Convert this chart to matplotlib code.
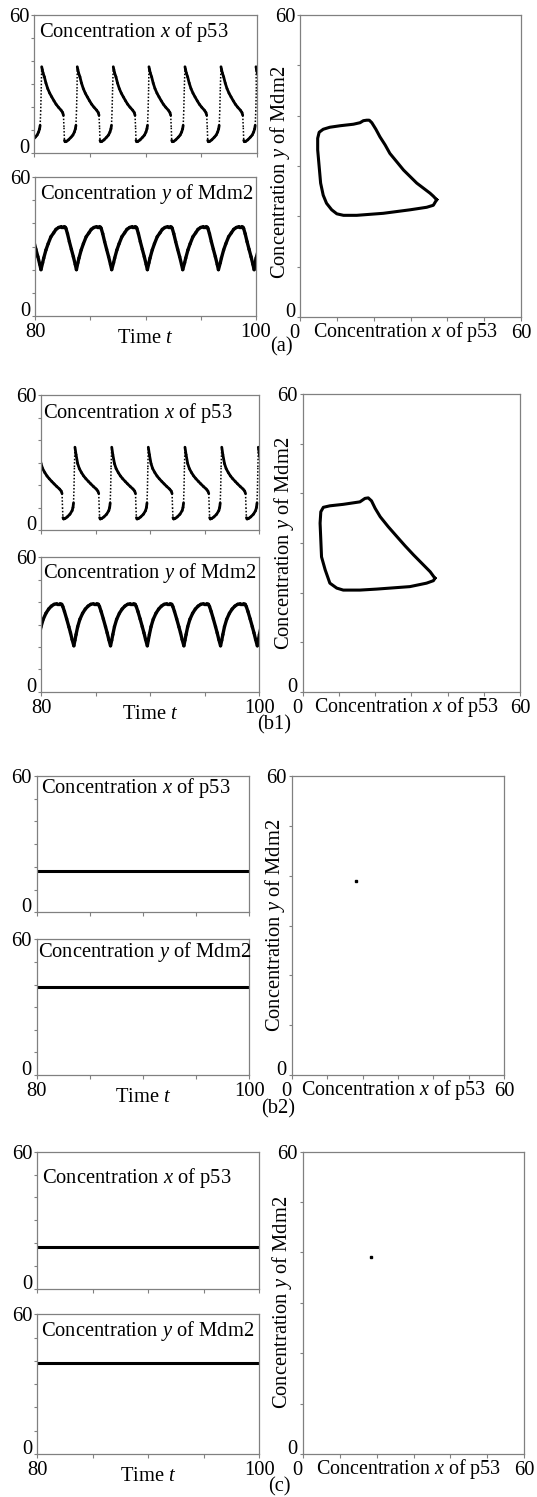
import numpy as np
import matplotlib
matplotlib.use('Agg')
import matplotlib.pyplot as plt
from matplotlib.collections import LineCollection

plt.rcParams['font.family'] = ['Liberation Serif', 'DejaVu Serif']
plt.rcParams['mathtext.fontset'] = 'custom'
plt.rcParams['mathtext.rm'] = 'Liberation Serif'
plt.rcParams['mathtext.it'] = 'Liberation Serif:italic'

W, H = 537, 1497
FS = 14.8
GRAY = '#808080'

# ---------------- data ----------------
time_ticks = [80, 85, 90, 95, 100]
time_ticklabels = ['80', '', '', '', '100']
conc_ticks = [0, 10, 20, 30, 40, 50, 60]
conc_ticklabels = ['0', '', '', '', '', '', '60']
panel_labels = ['(a)', '(b1)', '(b2)', '(c)']

# (a) oscillation: p53 peak times and one-cycle profiles (time after a p53 peak)
a_peak_t = [77.48, 80.69, 83.88, 87.11, 90.31, 93.54, 96.77, 99.91]
a_x_tau = [0.00, 0.05, 0.12, 0.24, 0.38, 0.54, 0.72, 0.90, 1.10, 1.29, 1.50, 1.74, 1.88, 1.95,
           2.00, 2.04, 2.10, 2.20, 2.40, 2.64, 2.80, 2.93, 3.02, 3.07, 3.12, 3.17]
a_x_val = [37.5, 36.3, 34.8, 33.1, 30.4, 28.0, 26.0, 24.4, 22.7, 21.2, 19.9, 18.6, 17.6, 16.4,
           11.0, 5.5, 4.9, 5.0, 5.7, 6.9, 7.8, 9.1, 10.5, 12.0, 18.0, 28.0]
a_y_tau = [0.00, 0.10, 0.30, 0.50, 0.75, 1.00, 1.21, 1.45, 1.70, 1.95, 2.05, 2.11, 2.25, 2.42,
           2.60, 2.78, 2.95, 3.06]
a_y_val = [23.0, 25.0, 28.5, 31.2, 34.2, 35.9, 37.4, 38.2, 38.6, 38.6, 38.3, 37.8, 35.5, 32.1,
           28.8, 25.6, 22.3, 20.0]
a_loop_x = [37.1, 36.2, 35.3, 33.5, 31.7, 29.9, 28.1, 26.2, 24.4, 23.1, 21.7, 20.6, 19.5, 18.8,
            18.1, 17.2, 16.3, 14.5, 10.9, 8.1, 6.3, 5.2, 4.8, 4.8, 5.2, 5.6, 6.3, 7.2, 8.6,
            10.0, 11.8, 15.4, 22.6, 29.9, 34.4, 36.2, 37.1]
a_loop_y = [23.3, 24.0, 24.6, 25.6, 26.6, 27.9, 29.2, 30.9, 32.5, 34.2, 35.8, 37.3, 38.6, 39.1,
            39.1, 39.0, 38.6, 38.3, 38.0, 37.7, 37.3, 36.7, 35.5, 33.2, 29.9, 26.6, 24.2, 22.6,
            21.3, 20.5, 20.2, 20.2, 20.6, 21.3, 21.8, 22.2, 23.3]

# (b1) oscillation
b1_peak_t = [79.75, 83.11, 86.48, 89.83, 93.19, 96.56, 99.91]
b1_x_tau = [0.00, 0.10, 0.25, 0.40, 0.60, 0.80, 1.00, 1.25, 1.45, 1.70, 1.95, 2.10, 2.18,
            2.22, 2.26, 2.32, 2.45, 2.65, 2.90, 3.10, 3.18, 3.23, 3.27, 3.31]
b1_x_val = [36.8, 33.5, 29.5, 27.3, 25.5, 24.0, 22.8, 21.5, 20.5, 19.3, 18.2, 17.3, 16.2,
            10.0, 5.5, 4.9, 5.1, 5.8, 7.0, 8.6, 10.0, 12.0, 18.0, 28.0]
b1_y_tau = [0.00, 0.10, 0.25, 0.45, 0.70, 0.95, 1.20, 1.45, 1.70, 2.00, 2.15, 2.25, 2.40,
            2.60, 2.80, 2.95, 3.10, 3.26]
b1_y_val = [23.0, 25.5, 29.0, 32.3, 35.0, 36.9, 38.2, 39.0, 39.3, 39.3, 39.0, 38.0, 35.8,
            32.5, 29.0, 26.3, 23.3, 20.5]
b1_loop_x = [36.5, 35.2, 32.9, 30.6, 28.3, 26.0, 23.6, 21.4, 20.0, 19.0, 18.1, 17.2, 15.8,
             11.2, 7.5, 5.7, 5.0, 4.8, 5.0, 5.2, 6.2, 7.5, 9.4, 11.2, 15.8, 20.4, 29.6, 34.2,
             36.1, 36.5]
b1_loop_y = [22.9, 24.2, 25.9, 27.6, 29.4, 31.3, 33.3, 35.3, 37.0, 38.5, 39.1, 39.0, 38.3,
             37.8, 37.5, 37.2, 36.3, 34.0, 30.6, 27.2, 24.6, 21.9, 20.9, 20.5, 20.5, 20.7, 21.2,
             21.9, 22.4, 22.9]

# (b2) and (c): steady state
b2_t = [80, 100]
b2_x = [18.2, 18.2]
b2_y = [39.0, 39.0]
c_t = [80, 100]
c_x = [18.4, 18.4]
c_y = [39.1, 39.1]

# ---------------- helpers ----------------
fig = plt.figure(figsize=(W / 100, H / 100), dpi=100)


def add_ax(l, t, r, b):
    return fig.add_axes([l / W, 1 - b / H, (r - l) / W, (b - t) / H])


def style(ax):
    for s in ax.spines.values():
        s.set_color(GRAY)
        s.set_linewidth(0.9)
    ax.tick_params(direction='out', color=GRAY, width=0.8, labelsize=FS)
    ax.tick_params(axis='y', length=2.5, pad=1)
    ax.tick_params(axis='x', length=3, pad=2)
    ylabs = ax.get_yticklabels()
    ylabs[0].set_va('baseline')


def tile(peaks, tau, val):
    ts, vs = [], []
    for p in peaks:
        for tt, vv in zip(tau, val):
            ts.append(p + tt)
            vs.append(vv)
    return np.array(ts), np.array(vs)


def draw_series(ax, t, v, lw):
    pts = np.column_stack([t, v])
    segs = np.stack([pts[:-1], pts[1:]], axis=1)
    slope = np.abs(np.diff(v) / np.maximum(np.diff(t), 1e-6))
    steep = slope > 45
    lc1 = LineCollection(segs[~steep], colors='black', linewidths=lw, capstyle='round')
    lc2 = LineCollection(segs[steep], colors='black', linewidths=1.1, linestyles=(0, (1, 1.2)))
    ax.add_collection(lc1)
    ax.add_collection(lc2)


def ts_axes(box, title, pad_px, base_px, bottom):
    l, t, r, b = box
    ax = add_ax(l, t, r, b)
    ax.set_xlim(80, 100)
    ax.set_ylim(0, 60)
    ax.set_xticks(time_ticks)
    ax.set_xticklabels(time_ticklabels if bottom else [''] * 5)
    ax.set_yticks(conc_ticks)
    ax.set_yticklabels(conc_ticklabels)
    style(ax)
    ax.text(pad_px / (r - l), 1 - base_px / (b - t), title, transform=ax.transAxes,
            ha='left', va='baseline', fontsize=FS)
    if bottom:
        ax.text(0.5, -27 / (b - t), 'Time $t$', transform=ax.transAxes,
                ha='center', va='baseline', fontsize=FS)
    return ax


def phase_axes(box, ylab_dx, ylab_dy):
    l, t, r, b = box
    ax = add_ax(l, t, r, b)
    ax.set_xlim(0, 60)
    ax.set_ylim(0, 60)
    ax.set_xticks(conc_ticks)
    ax.set_xticklabels(conc_ticklabels)
    ax.set_yticks(conc_ticks)
    ax.set_yticklabels(conc_ticklabels)
    style(ax)
    xl = ax.get_xticklabels()
    xl[0].set_ha('right')
    ax.text(0.478, -20 / (b - t), 'Concentration $x$ of p53', transform=ax.transAxes,
            ha='center', va='baseline', fontsize=14.4)
    ax.text(ylab_dx / (r - l), 0.5 - ylab_dy / (b - t), 'Concentration $y$ of Mdm2',
            transform=ax.transAxes, ha='center', va='center', rotation=90, fontsize=FS)
    return ax


X_TITLE = 'Concentration $x$ of p53'
Y_TITLE = 'Concentration $y$ of Mdm2'

# ---------------- (a) ----------------
ax = ts_axes((34, 15, 257, 153), X_TITLE, 5, 22.3, False)
draw_series(ax, *tile(a_peak_t, a_x_tau, a_x_val), 2.0)
ax = ts_axes((35, 177, 256, 316), Y_TITLE, 5, 22.3, True)
draw_series(ax, *tile(a_peak_t, a_y_tau, a_y_val), 2.4)
ax = phase_axes((300, 15, 521, 317), -20, 6)
ax.plot(a_loop_x, a_loop_y, color='black', lw=2.2, solid_joinstyle='round')
fig.text(281 / W, 1 - 347 / H, panel_labels[0], ha='center', va='center', fontsize=FS)

# ---------------- (b1) ----------------
ax = ts_axes((41, 395, 259.3, 530), X_TITLE, 2.3, 22.7, False)
draw_series(ax, *tile(b1_peak_t, b1_x_tau, b1_x_val), 2.0)
ax = ts_axes((41, 557.3, 259.3, 691.7), Y_TITLE, 1.7, 21, True)
draw_series(ax, *tile(b1_peak_t, b1_y_tau, b1_y_val), 2.4)
ax = phase_axes((302.7, 394.3, 520, 691.7), -19, 0)
ax.plot(b1_loop_x, b1_loop_y, color='black', lw=2.2, solid_joinstyle='round')
fig.text(274 / W, 1 - 725 / H, panel_labels[1], ha='center', va='center', fontsize=FS)

# ---------------- (b2) ----------------
ax = ts_axes((36.7, 776, 249.3, 912.3), X_TITLE, 4, 17.5, False)
ax.plot(b2_t, b2_x, color='black', lw=2.2)
ax = ts_axes((36.7, 939.3, 249.3, 1075), Y_TITLE, 1, 17.4, True)
ax.plot(b2_t, b2_y, color='black', lw=2.2)
ax = phase_axes((291.7, 776, 504.3, 1075), -17, 0)
ax.plot(b2_x[:1], b2_y[:1], 's', color='black', ms=1.8)
fig.text(278 / W, 1 - 1109 / H, panel_labels[2], ha='center', va='center', fontsize=FS)

# ---------------- (c) ----------------
ax = ts_axes((37.3, 1151.7, 259.3, 1289), X_TITLE, 4.4, 31, False)
ax.plot(c_t, c_x, color='black', lw=2.2)
ax = ts_axes((37.3, 1314.3, 259.3, 1454), Y_TITLE, 3.3, 21.7, True)
ax.plot(c_t, c_y, color='black', lw=2.2)
ax = phase_axes((302.7, 1151.7, 524.3, 1454), -21, 0)
ax.plot(c_x[:1], c_y[:1], 's', color='black', ms=1.8)
fig.text(279 / W, 1 - 1487 / H, panel_labels[3], ha='center', va='center', fontsize=FS)

fig.savefig('out.png', dpi=100)
